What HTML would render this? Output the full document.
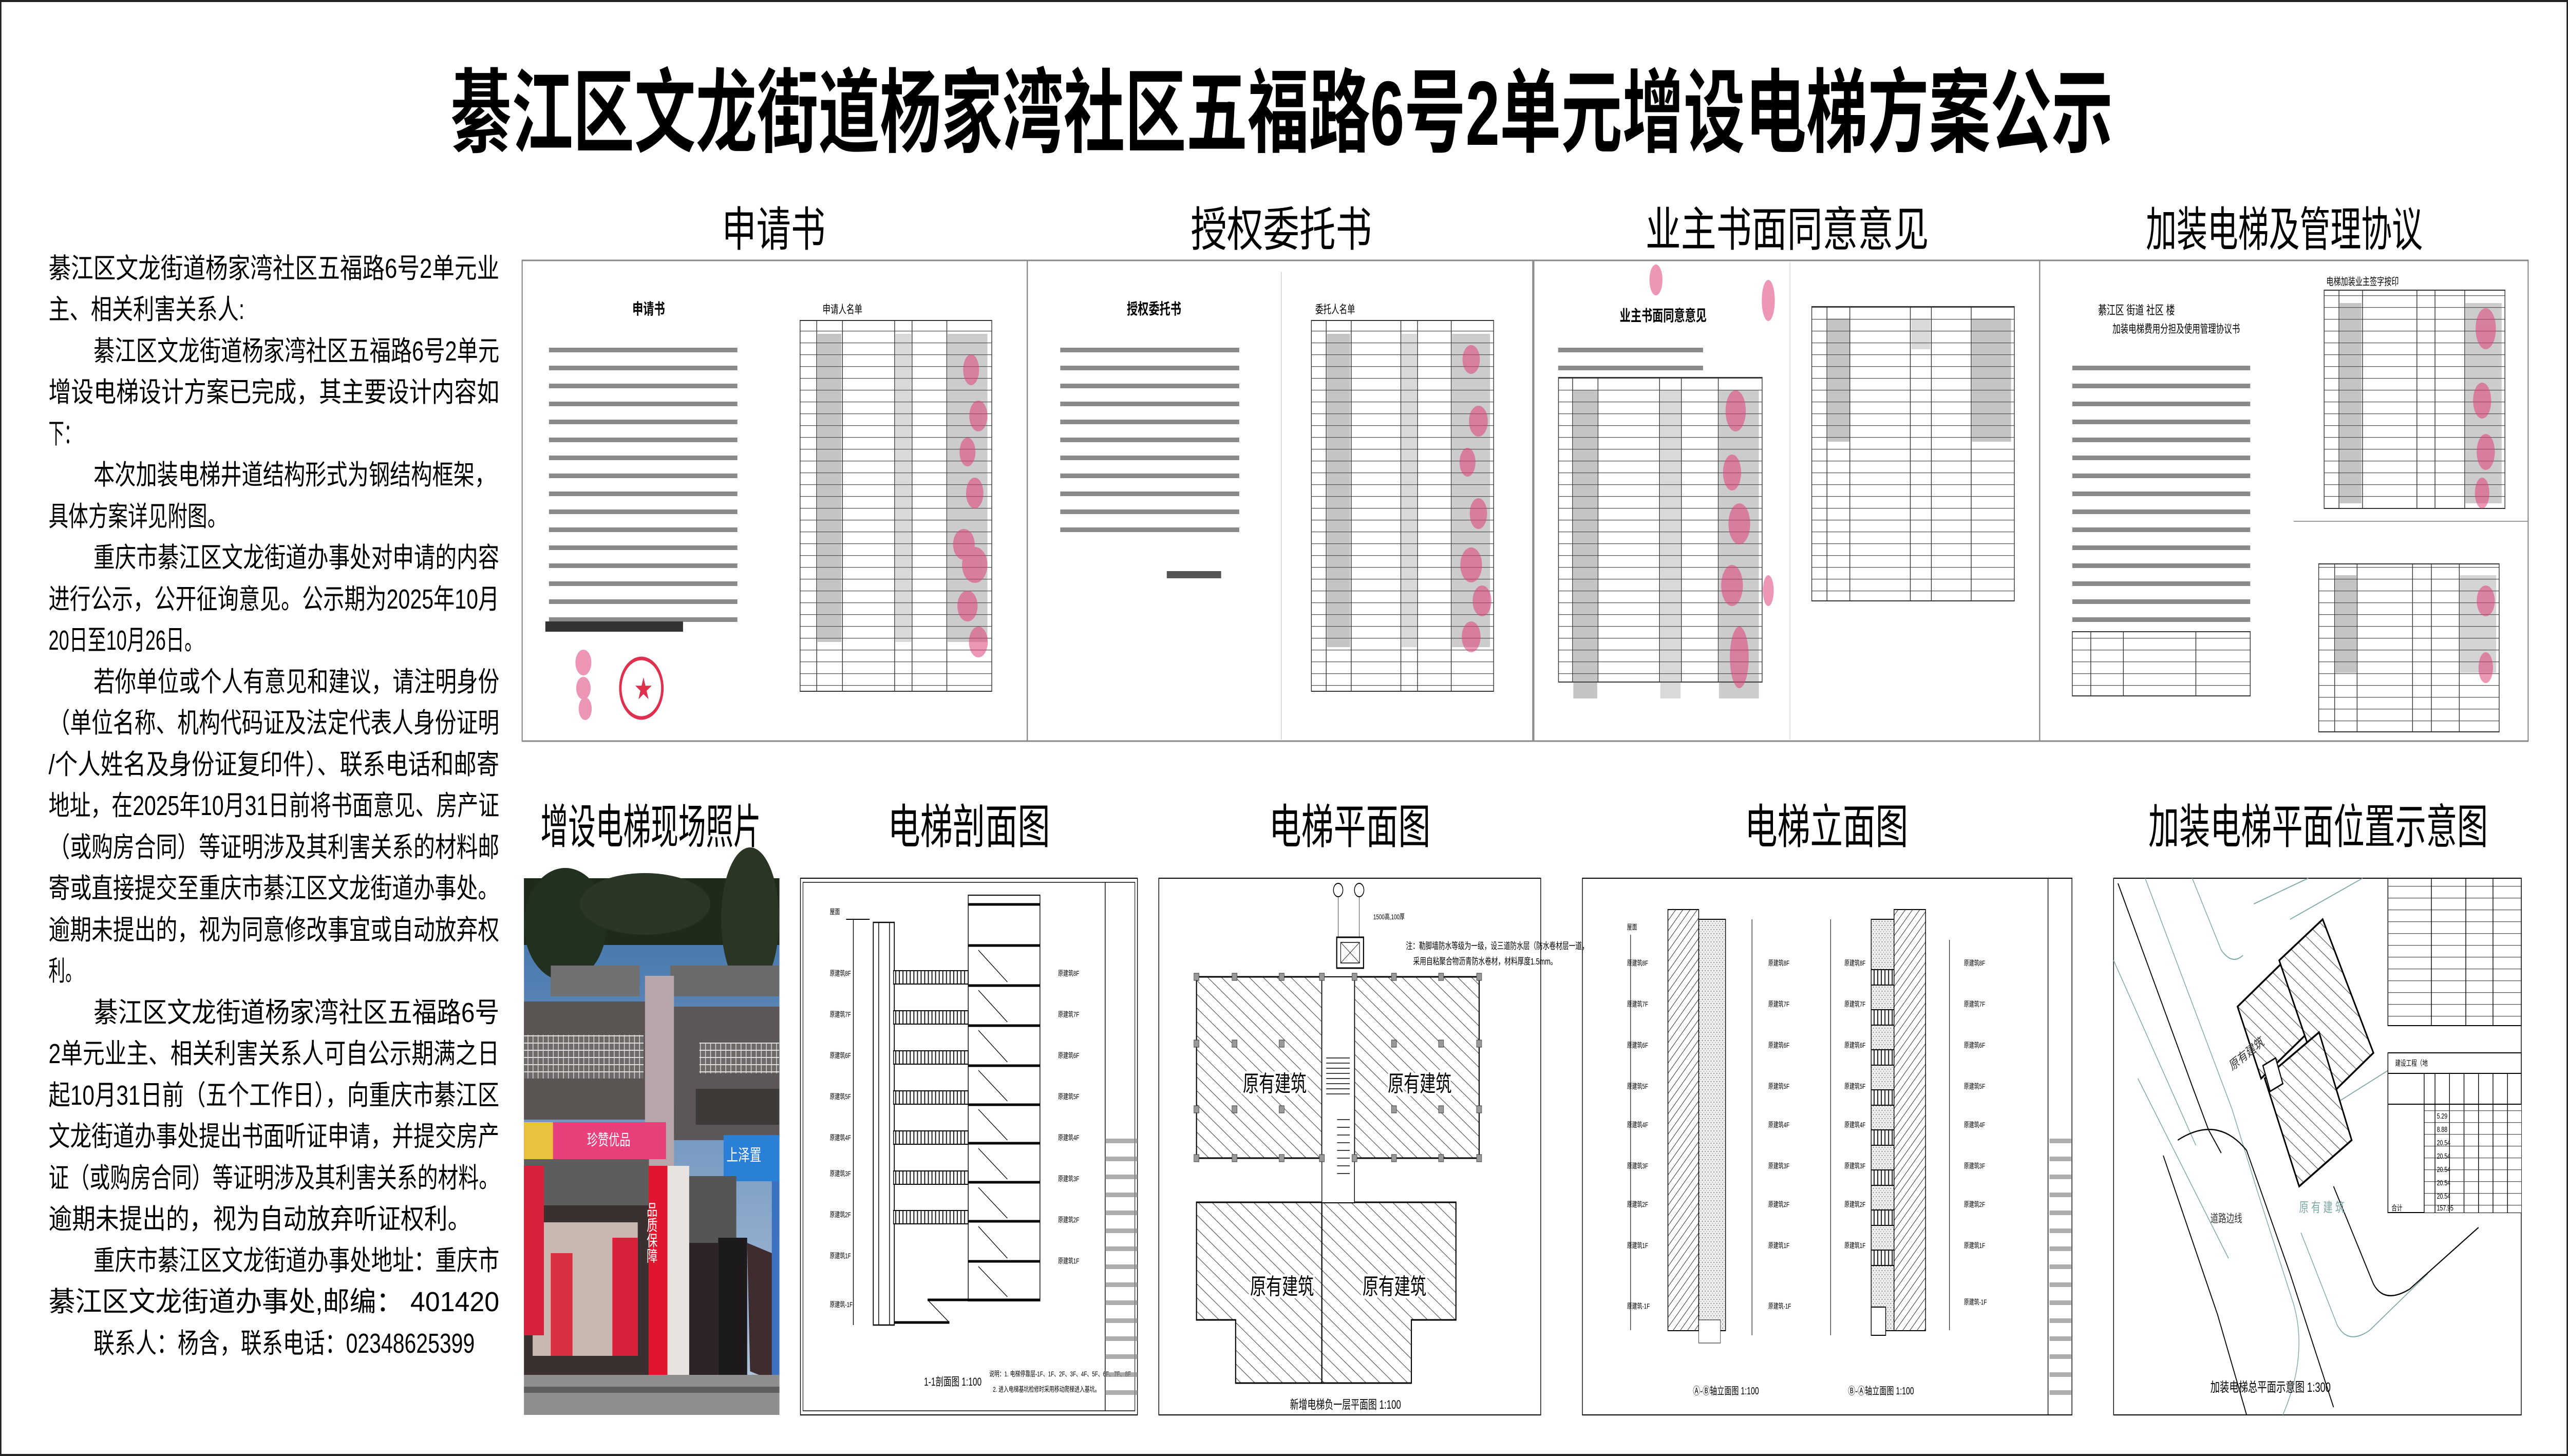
<!DOCTYPE html>
<html><head><meta charset="utf-8"><style>
html,body{margin:0;padding:0;background:#fff;width:100vw;height:100vh;overflow:hidden}
svg{display:block;position:absolute;left:0;top:0}
text{font-family:"Liberation Sans","Noto Sans CJK SC",sans-serif}
</style></head><body>
<svg xmlns="http://www.w3.org/2000/svg" width="100%" height="100%" viewBox="0 0 7087 2835" preserveAspectRatio="none">
<defs>
<pattern id="hatch" patternUnits="userSpaceOnUse" width="22" height="22" patternTransform="rotate(-55)"><rect width="22" height="22" fill="#fff"/><line x1="0" y1="0" x2="0" y2="22" stroke="#444" stroke-width="2.5"/></pattern>
<pattern id="hatch2" patternUnits="userSpaceOnUse" width="14" height="14" patternTransform="rotate(45)"><rect width="14" height="14" fill="#fff"/><line x1="0" y1="0" x2="0" y2="14" stroke="#333" stroke-width="2.5"/></pattern>
<pattern id="rows" patternUnits="userSpaceOnUse" width="40" height="23"><rect width="40" height="23" fill="#fff"/><line x1="0" y1="0.5" x2="40" y2="0.5" stroke="#555" stroke-width="1.6"/></pattern>
<pattern id="tl" patternUnits="userSpaceOnUse" width="40" height="35"><rect y="12" width="40" height="9" fill="#8a8a8a"/></pattern>
<pattern id="dots" patternUnits="userSpaceOnUse" width="8" height="8"><rect width="8" height="8" fill="#eee"/><circle cx="2" cy="2" r="1.2" fill="#777"/><circle cx="6" cy="6" r="1" fill="#999"/></pattern>
<pattern id="rail" patternUnits="userSpaceOnUse" width="10" height="30"><rect width="10" height="30" fill="#fff"/><line x1="2" y1="0" x2="2" y2="30" stroke="#222" stroke-width="3"/></pattern>
<pattern id="grille" patternUnits="userSpaceOnUse" width="14" height="14"><rect width="14" height="14" fill="#6d6a68"/><line x1="0" y1="1" x2="14" y2="1" stroke="#ddd" stroke-width="2"/><line x1="1" y1="0" x2="1" y2="14" stroke="#ddd" stroke-width="2"/></pattern>
<linearGradient id="sky" x1="0" y1="0" x2="0" y2="1"><stop offset="0" stop-color="#3a6ea8"/><stop offset="1" stop-color="#b8c9dd"/></linearGradient>
</defs>
<rect width="7087" height="2835" fill="#fff"/>
<rect x="2" y="2" width="7083" height="2831" fill="none" stroke="#222" stroke-width="4"/>

<text x="1243" y="282" font-size="178" font-weight="bold" textLength="4588" lengthAdjust="spacingAndGlyphs">綦江区文龙街道杨家湾社区五福路6号2单元增设电梯方案公示</text>

<g font-size="54" fill="#000">
<text x="134" y="541" textLength="1244" lengthAdjust="spacingAndGlyphs">綦江区文龙街道杨家湾社区五福路6号2单元业</text>
<text x="134" y="621" textLength="541" lengthAdjust="spacingAndGlyphs">主、相关利害关系人:</text>
<text x="258" y="702" textLength="1120" lengthAdjust="spacingAndGlyphs">綦江区文龙街道杨家湾社区五福路6号2单元</text>
<text x="134" y="782" textLength="1244" lengthAdjust="spacingAndGlyphs">增设电梯设计方案已完成，其主要设计内容如</text>
<text x="134" y="863" textLength="86" lengthAdjust="spacingAndGlyphs">下：</text>
<text x="258" y="943" textLength="1110" lengthAdjust="spacingAndGlyphs">本次加装电梯井道结构形式为钢结构框架，</text>
<text x="134" y="1024" textLength="493" lengthAdjust="spacingAndGlyphs">具体方案详见附图。</text>
<text x="258" y="1104" textLength="1120" lengthAdjust="spacingAndGlyphs">重庆市綦江区文龙街道办事处对申请的内容</text>
<text x="134" y="1185" textLength="1244" lengthAdjust="spacingAndGlyphs">进行公示，公开征询意见。公示期为2025年10月</text>
<text x="134" y="1265" textLength="426" lengthAdjust="spacingAndGlyphs">20日至10月26日。</text>
<text x="258" y="1346" textLength="1120" lengthAdjust="spacingAndGlyphs">若你单位或个人有意见和建议，请注明身份</text>
<text x="134" y="1426" textLength="1244" lengthAdjust="spacingAndGlyphs">（单位名称、机构代码证及法定代表人身份证明</text>
<text x="134" y="1507" textLength="1244" lengthAdjust="spacingAndGlyphs">/个人姓名及身份证复印件）、联系电话和邮寄</text>
<text x="134" y="1587" textLength="1244" lengthAdjust="spacingAndGlyphs">地址，在2025年10月31日前将书面意见、房产证</text>
<text x="134" y="1668" textLength="1244" lengthAdjust="spacingAndGlyphs">（或购房合同）等证明涉及其利害关系的材料邮</text>
<text x="134" y="1748" textLength="1244" lengthAdjust="spacingAndGlyphs">寄或直接提交至重庆市綦江区文龙街道办事处。</text>
<text x="134" y="1829" textLength="1244" lengthAdjust="spacingAndGlyphs">逾期未提出的，视为同意修改事宜或自动放弃权</text>
<text x="134" y="1909" textLength="92" lengthAdjust="spacingAndGlyphs">利。</text>
<text x="258" y="1990" textLength="1120" lengthAdjust="spacingAndGlyphs">綦江区文龙街道杨家湾社区五福路6号</text>
<text x="134" y="2070" textLength="1244" lengthAdjust="spacingAndGlyphs">2单元业主、相关利害关系人可自公示期满之日</text>
<text x="134" y="2151" textLength="1244" lengthAdjust="spacingAndGlyphs">起10月31日前（五个工作日），向重庆市綦江区</text>
<text x="134" y="2231" textLength="1244" lengthAdjust="spacingAndGlyphs">文龙街道办事处提出书面听证申请，并提交房产</text>
<text x="134" y="2312" textLength="1244" lengthAdjust="spacingAndGlyphs">证（或购房合同）等证明涉及其利害关系的材料。</text>
<text x="134" y="2392" textLength="1166" lengthAdjust="spacingAndGlyphs">逾期未提出的，视为自动放弃听证权利。</text>
<text x="258" y="2473" textLength="1120" lengthAdjust="spacingAndGlyphs">重庆市綦江区文龙街道办事处地址：重庆市</text>
<text x="134" y="2553" textLength="1244" lengthAdjust="spacingAndGlyphs">綦江区文龙街道办事处,邮编：  401420</text>
<text x="258" y="2634" textLength="1052" lengthAdjust="spacingAndGlyphs">联系人：杨含，联系电话：02348625399</text>
</g>

<g font-size="92" fill="#000">
<text x="1992" y="479" textLength="286" lengthAdjust="spacingAndGlyphs">申请书</text>
<text x="3286" y="479" textLength="500" lengthAdjust="spacingAndGlyphs">授权委托书</text>
<text x="4541" y="479" textLength="782" lengthAdjust="spacingAndGlyphs">业主书面同意意见</text>
<text x="5922" y="479" textLength="764" lengthAdjust="spacingAndGlyphs">加装电梯及管理协议</text>
<text x="1492" y="1642" textLength="608" lengthAdjust="spacingAndGlyphs">增设电梯现场照片</text>
<text x="2450" y="1642" textLength="448" lengthAdjust="spacingAndGlyphs">电梯剖面图</text>
<text x="3502" y="1642" textLength="446" lengthAdjust="spacingAndGlyphs">电梯平面图</text>
<text x="4815" y="1642" textLength="451" lengthAdjust="spacingAndGlyphs">电梯立面图</text>
<text x="5929" y="1642" textLength="937" lengthAdjust="spacingAndGlyphs">加装电梯平面位置示意图</text>
</g>

<g fill="none" stroke="#888" stroke-width="3">
<rect x="1441" y="507" width="1394" height="936"/>
<rect x="2835" y="507" width="1395" height="936"/>
<rect x="4233" y="507" width="1396" height="936"/>
<rect x="5629" y="507" width="1348" height="936"/>
</g>
<line x1="3536" y1="530" x2="3536" y2="1440" stroke="#ccc" stroke-width="2"/>
<line x1="4940" y1="510" x2="4940" y2="1440" stroke="#ddd" stroke-width="2"/>
<line x1="6330" y1="1015" x2="6977" y2="1015" stroke="#999" stroke-width="2"/>

<text x="1745" y="612" font-size="30" font-weight="bold">申请书</text>
<rect x="1515" y="660" width="520" height="570" fill="url(#tl)"/>
<rect x="1505" y="1210" width="380" height="20" fill="#333"/>
<text x="2270" y="610" font-size="22">申请人名单</text>
<rect x="2208" y="624" width="529" height="722" fill="url(#rows)" stroke="#333" stroke-width="2"/>
<g stroke="#333" stroke-width="2"><line x1="2254" y1="624" x2="2254" y2="1346"/><line x1="2325" y1="624" x2="2325" y2="1346"/><line x1="2469" y1="624" x2="2469" y2="1346"/><line x1="2517" y1="624" x2="2517" y2="1346"/><line x1="2613" y1="624" x2="2613" y2="1346"/></g>
<rect x="2256" y="650" width="66" height="600" fill="#555" opacity=".35"/>
<rect x="2471" y="650" width="44" height="600" fill="#666" opacity=".25"/>
<rect x="2615" y="650" width="110" height="600" fill="#555" opacity=".3"/>
<g fill="#e0407a" opacity=".55">
<ellipse cx="2680" cy="720" rx="22" ry="30"/><ellipse cx="2700" cy="810" rx="25" ry="30"/><ellipse cx="2670" cy="880" rx="22" ry="28"/><ellipse cx="2690" cy="960" rx="24" ry="30"/><ellipse cx="2660" cy="1060" rx="30" ry="30"/><ellipse cx="2690" cy="1100" rx="35" ry="35"/><ellipse cx="2670" cy="1180" rx="28" ry="30"/><ellipse cx="2700" cy="1250" rx="26" ry="30"/><ellipse cx="1610" cy="1290" rx="22" ry="25"/><ellipse cx="1610" cy="1340" rx="20" ry="22"/><ellipse cx="1615" cy="1380" rx="18" ry="22"/>
</g>
<circle cx="1770" cy="1340" r="58" fill="none" stroke="#e03050" stroke-width="7"/>
<text x="1752" y="1358" font-size="48" fill="#e03050">★</text>

<text x="3110" y="612" font-size="30" font-weight="bold">授权委托书</text>
<rect x="2926" y="660" width="494" height="400" fill="url(#tl)"/>
<rect x="3220" y="1112" width="150" height="14" fill="#555"/>
<text x="3630" y="610" font-size="22">委托人名单</text>
<rect x="3619" y="624" width="503" height="722" fill="url(#rows)" stroke="#333" stroke-width="2"/>
<g stroke="#333" stroke-width="2"><line x1="3660" y1="624" x2="3660" y2="1346"/><line x1="3729" y1="624" x2="3729" y2="1346"/><line x1="3866" y1="624" x2="3866" y2="1346"/><line x1="3912" y1="624" x2="3912" y2="1346"/><line x1="4005" y1="624" x2="4005" y2="1346"/></g>
<rect x="3662" y="650" width="64" height="610" fill="#555" opacity=".35"/>
<rect x="3868" y="650" width="42" height="610" fill="#666" opacity=".25"/>
<rect x="4007" y="650" width="105" height="610" fill="#555" opacity=".3"/>
<g fill="#e0407a" opacity=".55">
<ellipse cx="4060" cy="700" rx="24" ry="28"/><ellipse cx="4080" cy="820" rx="26" ry="30"/><ellipse cx="4050" cy="900" rx="22" ry="28"/><ellipse cx="4080" cy="1000" rx="24" ry="30"/><ellipse cx="4060" cy="1100" rx="30" ry="34"/><ellipse cx="4090" cy="1170" rx="26" ry="30"/><ellipse cx="4060" cy="1240" rx="26" ry="30"/>
</g>

<text x="4470" y="625" font-size="30" font-weight="bold">业主书面同意意见</text>
<rect x="4300" y="660" width="400" height="70" fill="url(#tl)"/>
<rect x="4301" y="735" width="562" height="593" fill="url(#rows)" stroke="#333" stroke-width="2"/>
<g stroke="#333" stroke-width="2"><line x1="4340" y1="735" x2="4340" y2="1328"/><line x1="4410" y1="735" x2="4410" y2="1328"/><line x1="4580" y1="735" x2="4580" y2="1328"/><line x1="4640" y1="735" x2="4640" y2="1328"/><line x1="4742" y1="735" x2="4742" y2="1328"/></g>
<rect x="4342" y="760" width="66" height="600" fill="#555" opacity=".35"/>
<rect x="4582" y="760" width="56" height="600" fill="#666" opacity=".25"/>
<rect x="4744" y="760" width="110" height="600" fill="#555" opacity=".3"/>
<g fill="#e0407a" opacity=".55">
<ellipse cx="4570" cy="545" rx="18" ry="30"/><ellipse cx="4880" cy="585" rx="18" ry="40"/><ellipse cx="4790" cy="800" rx="28" ry="40"/><ellipse cx="4780" cy="920" rx="25" ry="35"/><ellipse cx="4800" cy="1020" rx="30" ry="40"/><ellipse cx="4780" cy="1140" rx="30" ry="40"/><ellipse cx="4800" cy="1280" rx="26" ry="60"/><ellipse cx="4880" cy="1150" rx="15" ry="30"/>
</g>
<rect x="5000" y="597" width="559" height="573" fill="url(#rows)" stroke="#333" stroke-width="2"/>
<g stroke="#333" stroke-width="2"><line x1="5042" y1="597" x2="5042" y2="1170"/><line x1="5105" y1="597" x2="5105" y2="1170"/><line x1="5272" y1="597" x2="5272" y2="1170"/><line x1="5330" y1="597" x2="5330" y2="1170"/><line x1="5440" y1="597" x2="5440" y2="1170"/></g>
<rect x="5044" y="620" width="60" height="240" fill="#555" opacity=".35"/>
<rect x="5442" y="620" width="108" height="240" fill="#555" opacity=".35"/>
<rect x="5275" y="620" width="52" height="60" fill="#666" opacity=".25"/>

<text x="5790" y="612" font-size="24">綦江区 街道 社区 楼</text>
<text x="5830" y="648" font-size="22">加装电梯费用分担及使用管理协议书</text>
<rect x="5719" y="690" width="491" height="530" fill="url(#tl)"/>
<rect x="5719" y="1230" width="491" height="125" fill="url(#rows)" stroke="#333" stroke-width="2"/>
<g stroke="#333" stroke-width="2"><line x1="5770" y1="1230" x2="5770" y2="1355"/><line x1="5860" y1="1230" x2="5860" y2="1355"/><line x1="6060" y1="1230" x2="6060" y2="1355"/></g>
<text x="6420" y="555" font-size="20">电梯加装业主签字按印</text>
<rect x="6414" y="565" width="499" height="425" fill="url(#rows)" stroke="#333" stroke-width="2"/>
<g stroke="#333" stroke-width="2"><line x1="6455" y1="565" x2="6455" y2="990"/><line x1="6520" y1="565" x2="6520" y2="990"/><line x1="6670" y1="565" x2="6670" y2="990"/><line x1="6720" y1="565" x2="6720" y2="990"/><line x1="6802" y1="565" x2="6802" y2="990"/></g>
<rect x="6457" y="590" width="60" height="390" fill="#555" opacity=".35"/>
<rect x="6804" y="590" width="100" height="390" fill="#555" opacity=".3"/>
<rect x="6399" y="1098" width="498" height="327" fill="url(#rows)" stroke="#333" stroke-width="2"/>
<g stroke="#333" stroke-width="2"><line x1="6443" y1="1098" x2="6443" y2="1425"/><line x1="6505" y1="1098" x2="6505" y2="1425"/><line x1="6658" y1="1098" x2="6658" y2="1425"/><line x1="6710" y1="1098" x2="6710" y2="1425"/><line x1="6787" y1="1098" x2="6787" y2="1425"/></g>
<rect x="6445" y="1120" width="58" height="190" fill="#555" opacity=".35"/>
<rect x="6789" y="1120" width="100" height="190" fill="#555" opacity=".25"/>
<g fill="#e0407a" opacity=".55">
<ellipse cx="6860" cy="640" rx="28" ry="40"/><ellipse cx="6850" cy="780" rx="25" ry="35"/><ellipse cx="6860" cy="880" rx="25" ry="35"/><ellipse cx="6850" cy="960" rx="20" ry="30"/><ellipse cx="6860" cy="1170" rx="25" ry="30"/><ellipse cx="6860" cy="1300" rx="20" ry="30"/>
</g>

<g>
<rect x="1446" y="1710" width="705" height="1045" fill="url(#sky)"/>
<rect x="1446" y="1710" width="705" height="130" fill="#1e2a1a"/>
<ellipse cx="1560" cy="1800" rx="114" ry="110" fill="#22301f"/>
<ellipse cx="2070" cy="1790" rx="80" ry="140" fill="#2a3524"/>
<ellipse cx="1780" cy="1760" rx="180" ry="60" fill="#2a3626"/>
<rect x="1520" y="1880" width="245" height="60" fill="#707070"/>
<rect x="1850" y="1880" width="300" height="60" fill="#6a6a6a"/>
<rect x="1446" y="1950" width="340" height="230" fill="#5a5452"/>
<rect x="1446" y="2015" width="330" height="85" fill="url(#grille)"/>
<rect x="1780" y="1900" width="80" height="380" fill="#b7a7ab"/>
<rect x="1860" y="1960" width="291" height="260" fill="#5c5656"/>
<rect x="1930" y="2030" width="220" height="60" fill="url(#grille)"/>
<rect x="1920" y="2120" width="230" height="70" fill="#3d3a38"/>
<rect x="1446" y="2185" width="392" height="72" fill="#e8407a"/>
<rect x="1446" y="2185" width="80" height="72" fill="#e9c23e"/>
<text x="1620" y="2230" font-size="30" fill="#fff">珍赞优品</text>
<rect x="1997" y="2210" width="154" height="90" fill="#2a7fd6"/>
<text x="2005" y="2260" font-size="32" fill="#fff">上泽置</text>
<rect x="1446" y="2257" width="345" height="90" fill="#5d5d5d"/>
<rect x="1446" y="2347" width="345" height="330" fill="#3a3030"/>
<rect x="1470" y="2380" width="290" height="260" fill="#c8b9b0"/>
<rect x="1446" y="2270" width="55" height="330" fill="#d8203a"/>
<rect x="1520" y="2440" width="60" height="200" fill="#d83040"/>
<rect x="1690" y="2410" width="70" height="230" fill="#d8203a"/>
<rect x="1790" y="2270" width="52" height="420" fill="#e0162e"/>
<text x="1798" y="2340" font-size="30" fill="#fff" writing-mode="tb">品质保障</text>
<rect x="1842" y="2270" width="60" height="420" fill="#e8e3df"/>
<rect x="1902" y="2290" width="130" height="130" fill="#555"/>
<rect x="1902" y="2420" width="80" height="270" fill="#2c2426"/>
<rect x="1982" y="2410" width="80" height="280" fill="#1d1a1c"/>
<polygon points="2062,2420 2130,2440 2140,2690 2070,2670" fill="#3e2c2e"/>
<rect x="2130" y="2300" width="21" height="380" fill="#3c72c0"/>
<rect x="1446" y="2677" width="705" height="78" fill="#8f8e8c"/>
<rect x="1446" y="2700" width="705" height="12" fill="#5e5e5e"/>
</g>

<g fill="none" stroke="#000" stroke-width="2">
<rect x="2209" y="1710" width="930" height="1045"/>
<rect x="2216" y="1718" width="916" height="1029" stroke-width="1.5"/>
<line x1="3050" y1="1718" x2="3050" y2="2747"/>
<rect x="2410" y="1796" width="58" height="784" stroke-width="2.5"/>
<line x1="2425" y1="1796" x2="2425" y2="2580"/><line x1="2455" y1="1796" x2="2455" y2="2580"/>
<rect x="2672" y="1743" width="198" height="790" stroke-width="2"/>
</g>
<g stroke="#000" stroke-width="5">
<line x1="2672" y1="1761" x2="2870" y2="1761"/><line x1="2672" y1="1841" x2="2870" y2="1841"/><line x1="2672" y1="1919" x2="2870" y2="1919"/><line x1="2672" y1="1997" x2="2870" y2="1997"/><line x1="2672" y1="2075" x2="2870" y2="2075"/><line x1="2672" y1="2151" x2="2870" y2="2151"/><line x1="2672" y1="2226" x2="2870" y2="2226"/><line x1="2672" y1="2302" x2="2870" y2="2302"/><line x1="2672" y1="2378" x2="2870" y2="2378"/><line x1="2672" y1="2456" x2="2870" y2="2456"/><line x1="2560" y1="2531" x2="2870" y2="2531"/><line x1="2468" y1="2575" x2="2620" y2="2575"/>
</g>
<g stroke="#000" stroke-width="1.5">
<line x1="2700" y1="1850" x2="2780" y2="1912"/><line x1="2700" y1="1928" x2="2780" y2="1990"/><line x1="2700" y1="2006" x2="2780" y2="2068"/><line x1="2700" y1="2084" x2="2780" y2="2144"/><line x1="2700" y1="2160" x2="2780" y2="2220"/><line x1="2700" y1="2236" x2="2780" y2="2296"/><line x1="2700" y1="2312" x2="2780" y2="2372"/><line x1="2700" y1="2388" x2="2780" y2="2450"/><line x1="2700" y1="2466" x2="2780" y2="2525"/><line x1="2560" y1="2531" x2="2620" y2="2575"/>
</g>
<g fill="url(#rail)" stroke="#000" stroke-width="2">
<rect x="2466" y="1890" width="206" height="26"/><rect x="2466" y="1968" width="206" height="26"/><rect x="2466" y="2046" width="206" height="26"/><rect x="2466" y="2124" width="206" height="26"/><rect x="2466" y="2202" width="206" height="26"/><rect x="2466" y="2280" width="206" height="26"/><rect x="2466" y="2357" width="206" height="26"/>
</g>
<g stroke="#000" stroke-width="2"><line x1="2355" y1="1790" x2="2355" y2="2580"/><line x1="2335" y1="1790" x2="2400" y2="1790"/></g>
<g font-size="14" fill="#000">
<text x="2290" y="1780">屋面</text><text x="2290" y="1900">原建筑8F</text><text x="2290" y="1980">原建筑7F</text><text x="2290" y="2060">原建筑6F</text><text x="2290" y="2140">原建筑5F</text><text x="2290" y="2220">原建筑4F</text><text x="2290" y="2290">原建筑3F</text><text x="2290" y="2370">原建筑2F</text><text x="2290" y="2450">原建筑1F</text><text x="2290" y="2545">原建筑-1F</text>
<text x="2920" y="1900">原建筑8F</text><text x="2920" y="1980">原建筑7F</text><text x="2920" y="2060">原建筑6F</text><text x="2920" y="2140">原建筑5F</text><text x="2920" y="2220">原建筑4F</text><text x="2920" y="2300">原建筑3F</text><text x="2920" y="2380">原建筑2F</text><text x="2920" y="2460">原建筑1F</text>
<text x="2550" y="2698" font-size="22">1-1剖面图  1:100</text>
<text x="2730" y="2680">说明：1. 电梯停靠层-1F、1F、2F、3F、4F、5F、6F、7F、8F</text>
<text x="2740" y="2710">2. 进入电梯基坑检修时采用移动爬梯进入基坑。</text>
</g>
<rect x="3050" y="2200" width="89" height="540" fill="url(#tl)" opacity=".7"/>

<g>
<rect x="3198" y="1710" width="1054" height="1045" fill="none" stroke="#000" stroke-width="2"/>
<rect x="3302" y="1902" width="346" height="353" fill="url(#hatch)" stroke="#000" stroke-width="3"/>
<rect x="3738" y="1902" width="344" height="353" fill="url(#hatch)" stroke="#000" stroke-width="3"/>
<polygon points="3302,2341 3648,2341 3648,2693 3410,2693 3410,2570 3302,2570" fill="url(#hatch)" stroke="#000" stroke-width="3"/>
<polygon points="3648,2341 4018,2341 4018,2570 3895,2570 3895,2693 3648,2693" fill="url(#hatch)" stroke="#000" stroke-width="3"/>
<rect x="3648" y="1902" width="90" height="440" fill="#fff" stroke="#000" stroke-width="2"/>
<g stroke="#000" stroke-width="1.5"><line x1="3660" y1="2060" x2="3725" y2="2060"/><line x1="3660" y1="2070" x2="3725" y2="2070"/><line x1="3660" y1="2080" x2="3725" y2="2080"/><line x1="3660" y1="2090" x2="3725" y2="2090"/><line x1="3660" y1="2100" x2="3725" y2="2100"/><line x1="3660" y1="2110" x2="3725" y2="2110"/><line x1="3660" y1="2120" x2="3725" y2="2120"/><line x1="3660" y1="2130" x2="3725" y2="2130"/><line x1="3690" y1="2180" x2="3725" y2="2180"/><line x1="3690" y1="2195" x2="3725" y2="2195"/><line x1="3690" y1="2210" x2="3725" y2="2210"/><line x1="3690" y1="2225" x2="3725" y2="2225"/><line x1="3690" y1="2240" x2="3725" y2="2240"/><line x1="3690" y1="2255" x2="3725" y2="2255"/><line x1="3690" y1="2270" x2="3725" y2="2270"/><line x1="3690" y1="2285" x2="3725" y2="2285"/></g>
<rect x="3689" y="1825" width="74" height="60" fill="#fff" stroke="#000" stroke-width="3"/>
<rect x="3700" y="1835" width="52" height="40" fill="none" stroke="#000" stroke-width="1.5"/>
<line x1="3700" y1="1835" x2="3752" y2="1875" stroke="#000"/><line x1="3752" y1="1835" x2="3700" y2="1875" stroke="#000"/>
<g fill="#999" stroke="#333">
<rect x="3295" y="1895" width="14" height="14"/><rect x="3400" y="1895" width="14" height="14"/><rect x="3530" y="1895" width="14" height="14"/><rect x="3641" y="1895" width="14" height="14"/><rect x="3731" y="1895" width="14" height="14"/><rect x="3840" y="1895" width="14" height="14"/><rect x="3970" y="1895" width="14" height="14"/><rect x="4075" y="1895" width="14" height="14"/>
<rect x="3295" y="2025" width="14" height="14"/><rect x="3400" y="2025" width="14" height="14"/><rect x="3530" y="2025" width="14" height="14"/><rect x="3840" y="2025" width="14" height="14"/><rect x="3970" y="2025" width="14" height="14"/><rect x="4075" y="2025" width="14" height="14"/>
<rect x="3295" y="2153" width="14" height="14"/><rect x="3400" y="2153" width="14" height="14"/><rect x="3530" y="2153" width="14" height="14"/><rect x="3840" y="2153" width="14" height="14"/><rect x="3970" y="2153" width="14" height="14"/><rect x="4075" y="2153" width="14" height="14"/>
<rect x="3295" y="2248" width="14" height="14"/><rect x="3400" y="2248" width="14" height="14"/><rect x="3530" y="2248" width="14" height="14"/><rect x="3641" y="2248" width="14" height="14"/><rect x="3731" y="2248" width="14" height="14"/><rect x="3840" y="2248" width="14" height="14"/><rect x="3970" y="2248" width="14" height="14"/><rect x="4075" y="2248" width="14" height="14"/>
</g>
<g font-size="44" fill="#000">
<text x="3430" y="2125" fill="#fff" stroke="#fff" stroke-width="10">原有建筑</text><text x="3430" y="2125">原有建筑</text>
<text x="3830" y="2125" fill="#fff" stroke="#fff" stroke-width="10">原有建筑</text><text x="3830" y="2125">原有建筑</text>
<text x="3450" y="2520" fill="#fff" stroke="#fff" stroke-width="10">原有建筑</text><text x="3450" y="2520">原有建筑</text>
<text x="3760" y="2520" fill="#fff" stroke="#fff" stroke-width="10">原有建筑</text><text x="3760" y="2520">原有建筑</text>
</g>
<text x="3880" y="1848" font-size="18">注：勒脚墙防水等级为一级，设三道防水层（防水卷材层一道，</text>
<text x="3900" y="1878" font-size="18">采用自粘聚合物沥青防水卷材，材料厚度1.5mm。</text>
<text x="3790" y="1790" font-size="14">1500高,100厚</text>
<text x="3560" y="2743" font-size="24">新增电梯负一层平面图  1:100</text>
<circle cx="3693" cy="1733" r="13" fill="none" stroke="#000" stroke-width="2"/><circle cx="3751" cy="1733" r="13" fill="none" stroke="#000" stroke-width="2"/>
<line x1="3693" y1="1746" x2="3693" y2="1825" stroke="#000"/><line x1="3751" y1="1746" x2="3751" y2="1825" stroke="#000"/>
</g>

<g>
<rect x="4367" y="1710" width="1351" height="1045" fill="none" stroke="#000" stroke-width="2"/>
<rect x="4603" y="1771" width="85" height="820" fill="url(#hatch2)" stroke="#000" stroke-width="2"/>
<rect x="4688" y="1790" width="74" height="801" fill="url(#dots)" stroke="#000" stroke-width="2"/>
<rect x="4688" y="2570" width="60" height="45" fill="#fff" stroke="#000"/>
<line x1="4500" y1="1820" x2="4500" y2="2590" stroke="#000" stroke-width="1.5"/>
<line x1="4835" y1="1790" x2="4835" y2="2600" stroke="#000" stroke-width="1.5"/>
<line x1="5052" y1="1790" x2="5052" y2="2600" stroke="#000" stroke-width="1.5"/>
<rect x="5164" y="1790" width="63" height="801" fill="url(#dots)" stroke="#000" stroke-width="2"/>
<rect x="5227" y="1771" width="87" height="820" fill="url(#hatch2)" stroke="#000" stroke-width="2"/>
<g fill="url(#rail)" stroke="#000" stroke-width="2">
<rect x="5164" y="1888" width="63" height="30"/><rect x="5164" y="1966" width="63" height="30"/><rect x="5164" y="2044" width="63" height="30"/><rect x="5164" y="2122" width="63" height="30"/><rect x="5164" y="2200" width="63" height="30"/><rect x="5164" y="2278" width="63" height="30"/><rect x="5164" y="2356" width="63" height="30"/><rect x="5164" y="2434" width="63" height="30"/>
</g>
<rect x="5164" y="2545" width="40" height="55" fill="#fff" stroke="#000" stroke-width="2"/>
<line x1="5380" y1="1830" x2="5380" y2="2590" stroke="#000" stroke-width="1.5"/>
<line x1="5652" y1="1710" x2="5652" y2="2755" stroke="#000" stroke-width="2"/>
<rect x="5656" y="2200" width="60" height="540" fill="url(#tl)" opacity=".7"/>
<g font-size="14">
<text x="4490" y="1810">屋面</text><text x="4490" y="1880">原建筑8F</text><text x="4490" y="1960">原建筑7F</text><text x="4490" y="2040">原建筑6F</text><text x="4490" y="2120">原建筑5F</text><text x="4490" y="2195">原建筑4F</text><text x="4490" y="2275">原建筑3F</text><text x="4490" y="2350">原建筑2F</text><text x="4490" y="2430">原建筑1F</text><text x="4490" y="2548">原建筑-1F</text>
<text x="4880" y="1880">原建筑8F</text><text x="4880" y="1960">原建筑7F</text><text x="4880" y="2040">原建筑6F</text><text x="4880" y="2120">原建筑5F</text><text x="4880" y="2195">原建筑4F</text><text x="4880" y="2275">原建筑3F</text><text x="4880" y="2350">原建筑2F</text><text x="4880" y="2430">原建筑1F</text><text x="4880" y="2548">原建筑-1F</text>
<text x="5090" y="1880">原建筑8F</text><text x="5090" y="1960">原建筑7F</text><text x="5090" y="2040">原建筑6F</text><text x="5090" y="2120">原建筑5F</text><text x="5090" y="2195">原建筑4F</text><text x="5090" y="2275">原建筑3F</text><text x="5090" y="2350">原建筑2F</text><text x="5090" y="2430">原建筑1F</text>
<text x="5420" y="1880">原建筑8F</text><text x="5420" y="1960">原建筑7F</text><text x="5420" y="2040">原建筑6F</text><text x="5420" y="2120">原建筑5F</text><text x="5420" y="2195">原建筑4F</text><text x="5420" y="2275">原建筑3F</text><text x="5420" y="2350">原建筑2F</text><text x="5420" y="2430">原建筑1F</text><text x="5420" y="2540">原建筑-1F</text>
</g>
<text x="4672" y="2715" font-size="20">Ⓐ-Ⓑ轴立面图  1:100</text>
<text x="5100" y="2715" font-size="20">Ⓑ-Ⓐ轴立面图  1:100</text>
</g>

<g>
<rect x="5833" y="1710" width="1125" height="1045" fill="none" stroke="#000" stroke-width="2"/>
<g fill="none" stroke="#7fa8a8" stroke-width="2">
<path d="M5920 1710 L6160 2160 L6230 2320 L6330 2540 Q6370 2640 6300 2755"/>
<path d="M5833 1870 L6060 2230"/>
<path d="M6050 1710 L6130 1850 Q6160 1880 6190 1860"/>
<path d="M6220 1760 L6370 1710"/>
<path d="M6320 1790 L6520 1710"/>
<path d="M6350 2400 L6450 2580 Q6480 2620 6540 2590 L6700 2480"/>
<path d="M6420 2160 L6600 2080 L6700 2300"/>
<path d="M5900 2100 L6150 2450"/>
</g>
<g fill="none" stroke="#000" stroke-width="2.5">
<path d="M5845 1720 L6050 2115 L6095 2200"/>
<path d="M6095 2200 L6130 2245"/>
<path d="M6010 2220 Q6120 2170 6200 2240 L6320 2480 L6440 2740"/>
<path d="M5970 2250 L6120 2560 L6200 2755"/>
<path d="M6440 2310 L6550 2500 Q6580 2540 6650 2510 L6840 2390"/>
</g>
<polygon points="6175,1960 6305,1870 6370,2010 6240,2100" fill="url(#hatch)" stroke="#000" stroke-width="4"/>
<polygon points="6290,1870 6410,1790 6550,2050 6420,2140" fill="url(#hatch)" stroke="#000" stroke-width="4"/>
<polygon points="6250,2100 6400,2010 6490,2220 6345,2310" fill="url(#hatch)" stroke="#000" stroke-width="4"/>
<polygon points="6245,2075 6280,2060 6300,2110 6265,2125" fill="#fff" stroke="#000" stroke-width="3"/>
<text x="6160" y="2085" font-size="26" fill="#333" transform="rotate(-30 6160 2085)">原有建筑</text>
<text x="6345" y="2360" font-size="26" fill="#7fa8a8">原 有 建 筑</text>
<text x="6100" y="2380" font-size="22" fill="#333">道路边线</text>
<text x="6100" y="2710" font-size="26">加装电梯总平面示意图  1:300</text>
<rect x="6590" y="1710" width="368" height="287" fill="url(#rows)" stroke="#000" stroke-width="2"/>
<g stroke="#000" stroke-width="2"><line x1="6710" y1="1710" x2="6710" y2="1997"/><line x1="6805" y1="1710" x2="6805" y2="1997"/><line x1="6880" y1="1710" x2="6880" y2="1997"/></g>
<rect x="6590" y="2050" width="368" height="311" fill="#fff" stroke="#000" stroke-width="2"/>
<rect x="6690" y="2150" width="268" height="211" fill="url(#rows)"/>
<g stroke="#000" stroke-width="2"><line x1="6590" y1="2090" x2="6958" y2="2090"/><line x1="6590" y1="2150" x2="6958" y2="2150"/><line x1="6690" y1="2090" x2="6690" y2="2361"/><line x1="6720" y1="2090" x2="6720" y2="2361"/><line x1="6760" y1="2090" x2="6760" y2="2361"/><line x1="6800" y1="2090" x2="6800" y2="2361"/><line x1="6840" y1="2090" x2="6840" y2="2361"/><line x1="6880" y1="2090" x2="6880" y2="2361"/><line x1="6920" y1="2090" x2="6920" y2="2361"/></g>
<g font-size="15"><text x="6725" y="2178">5.29</text><text x="6725" y="2204">8.88</text><text x="6725" y="2230">20.54</text><text x="6725" y="2256">20.54</text><text x="6725" y="2282">20.54</text><text x="6725" y="2308">20.54</text><text x="6725" y="2334">20.54</text><text x="6600" y="2357">合计</text><text x="6725" y="2357">157.95</text><text x="6610" y="2075">建设工程（地</text></g>
</g>

</svg>
</body></html>
